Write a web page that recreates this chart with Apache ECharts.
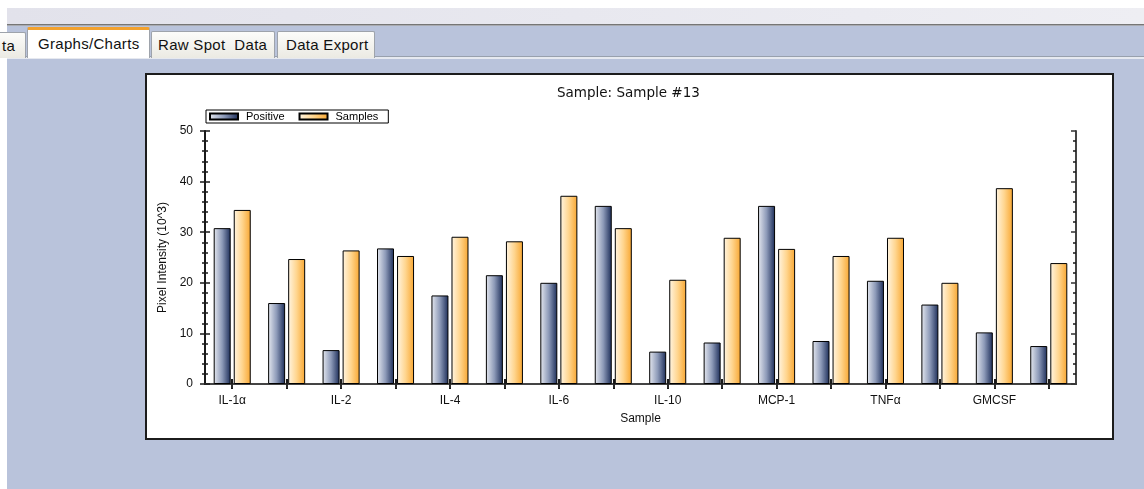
<!DOCTYPE html>
<html>
<head>
<meta charset="utf-8">
<script src="https://cdn.jsdelivr.net/npm/echarts@6/dist/echarts.min.js"></script>
<style>
  html, body { margin: 0; padding: 0; }
  body { width: 1144px; height: 489px; position: relative; overflow: hidden; background: #fff; font-family: 'Liberation Sans', Arial, sans-serif; }
  .band { position: absolute; left: 7px; top: 8px; width: 1137px; height: 16px; background: linear-gradient(to right, #e2e2eb, #eeeef3); }
  .rule1 { position: absolute; left: 7px; top: 24px; width: 1137px; height: 1px; background: #767676; }
  .rule2 { position: absolute; left: 7px; top: 25px; width: 1137px; height: 1px; background: #a9abb0; }
  .tabbar { position: absolute; left: 7px; top: 26px; width: 1137px; height: 30px; background: #b9c3db; }
  .rule3 { position: absolute; left: 7px; top: 56px; width: 1137px; height: 1px; background: #98a0ad; }
  .rule4 { position: absolute; left: 7px; top: 57px; width: 1137px; height: 2px; background: #e6e9f0; }
  .content { position: absolute; left: 7px; top: 59px; right: 0; bottom: 0; background: #b9c3db; }
  .tab { position: absolute; box-sizing: border-box; border: 1px solid #9ea3ab; border-bottom: none; border-radius: 2px 2px 0 0;
         background: linear-gradient(#fcfcfa, #ebeae3); font-size: 15px; letter-spacing: 0.3px; color: #111; white-space: pre; line-height: 25px; }
  .tab.sel { background: #fff; border-top: 3px solid #f2a12e; line-height: 27px; }
  .panel { position: absolute; left: 145px; top: 73px; width: 969px; height: 367px; box-sizing: border-box; background: #fff; border: 2px solid #1c1c1c; }
  #chart { position: absolute; left: 0; top: 0; width: 1144px; height: 489px; z-index: 2; }
</style>
</head>
<body>
<div class="band"></div>
<div class="rule1"></div>
<div class="rule2"></div>
<div class="tabbar"></div>
<div class="rule3"></div>
<div class="rule4"></div>
<div class="content"></div>
<div class="tab" style="left:-14px;top:32px;width:40px;height:26px;padding-left:15px;">ta</div>
<div class="tab sel" style="left:27px;top:27px;width:123px;height:31px;padding-left:10px;">Graphs/Charts</div>
<div class="tab" style="left:151px;top:31px;width:124px;height:27px;padding-left:6px;">Raw Spot  Data</div>
<div class="tab" style="left:277px;top:31px;width:98px;height:27px;padding-left:8px;">Data Export</div>
<div class="panel"></div>
<div id="chart"></div>
<script>
const chartTitle = 'Sample: Sample #13';
const cytokines = ['IL-1α', 'IL-1β', 'IL-2', 'IL-3', 'IL-4', 'IL-5', 'IL-6', 'IL-8',
  'IL-10', 'IL-13', 'MCP-1', 'MIP-1α', 'TNFα', 'TNFβ', 'GMCSF', 'IFNγ'];
const positive = [30.8, 16.0, 6.7, 26.8, 17.5, 21.5, 20.0, 35.2, 6.4, 8.2, 35.2, 8.5, 20.4, 15.7, 10.2, 7.5];
const samples = [34.4, 24.7, 26.4, 25.3, 29.1, 28.2, 37.2, 30.8, 20.6, 28.9, 26.7, 25.3, 28.9, 20.0, 38.7, 23.9];
const yMin = 0, yMax = 50, yStep = 10;

const font = "'Liberation Sans', Arial, sans-serif";
const ink = '#1a1a1a';

const grad = (a, m, b) => new echarts.graphic.LinearGradient(0, 0, 1, 0, [
  { offset: 0, color: a }, { offset: 0.5, color: m }, { offset: 1, color: b }
]);

const valueAxis = (extra) => Object.assign({
  type: 'value', min: yMin, max: yMax, interval: yStep,
  splitLine: { show: false },
  axisLabel: { show: false },
  axisLine: { show: false },
  axisTick: { show: true, length: 5, lineStyle: { color: ink, width: 1.5 } },
  minorTick: { show: true, splitNumber: 5, length: 3, lineStyle: { color: ink, width: 1.5 } }
}, extra);

const catAxis = (extra) => Object.assign({
  type: 'category', data: cytokines,
  axisLabel: { show: false },
  axisLine: { show: false },
  axisTick: { show: true, alignWithLabel: true, interval: 0, length: 5, lineStyle: { color: ink, width: 2 } }
}, extra);

const chart = echarts.init(document.getElementById('chart'));
chart.setOption({
  animation: false,
  backgroundColor: 'transparent',
  title: {
    text: chartTitle, left: 557, top: 86, padding: 0,
    textStyle: { fontFamily: 'DejaVu Sans', fontSize: 13.5, fontWeight: 'normal', color: '#111' }
  },
  legend: {
    data: ['Positive', 'Samples'],
    left: 206, top: 110, icon: 'rect', itemWidth: 28, itemHeight: 6, itemGap: 14,
    padding: [1, 10, 1, 3], borderColor: '#000', borderWidth: 1, backgroundColor: '#fff',
    textStyle: { fontFamily: font, fontSize: 11, color: '#000', lineHeight: 11, padding: [0, 0, 0, 3] }
  },
  grid: { left: 205, top: 131, width: 871, height: 253, containLabel: false },
  xAxis: [
    catAxis({
      position: 'bottom',
      axisLine: { show: true, lineStyle: { color: ink, width: 2 } },
      axisLabel: { show: true, interval: 1, margin: 11, color: '#111', fontFamily: font, fontSize: 12 },
      name: 'Sample', nameLocation: 'middle', nameGap: 29,
      nameTextStyle: { color: '#111', fontFamily: font, fontSize: 12 }
    }),
    catAxis({ position: 'bottom', axisTick: { show: true, inside: true, alignWithLabel: true, interval: 0, length: 5, lineStyle: { color: ink, width: 2 } } }),
    catAxis({
      position: 'top',
      axisLine: { show: true, lineStyle: { color: '#444', width: 2 } },
      axisTick: { show: true, inside: true, alignWithLabel: true, interval: 0, length: 4, lineStyle: { color: '#333', width: 1.5 } }
    })
  ],
  yAxis: [
    valueAxis({
      position: 'left',
      axisLine: { show: true, lineStyle: { color: ink, width: 2 } },
      axisLabel: { show: true, margin: 12, color: '#111', fontFamily: font, fontSize: 12 },
      name: 'Pixel Intensity (10^3)', nameLocation: 'middle', nameGap: 36,
      nameTextStyle: { color: '#111', fontFamily: font, fontSize: 12 }
    }),
    valueAxis({ position: 'left', axisTick: { show: true, inside: true, length: 5, lineStyle: { color: ink, width: 1.5 } } }),
    valueAxis({
      position: 'right',
      axisLine: { show: true, lineStyle: { color: '#444', width: 2 } },
      axisTick: { show: true, inside: true, length: 5, lineStyle: { color: '#333', width: 1.5 } }
    })
  ],
  series: [
    {
      name: 'Positive', type: 'bar', xAxisIndex: 0, yAxisIndex: 0,
      barWidth: 17, barGap: '18%', data: positive,
      itemStyle: { color: grad('#e6e9f0', '#8d9ab8', '#1b2c58'), borderColor: '#000', borderWidth: 1 }
    },
    {
      name: 'Samples', type: 'bar', xAxisIndex: 0, yAxisIndex: 0,
      barWidth: 17, data: samples,
      itemStyle: { color: grad('#fff5e3', '#ffd58e', '#f8a630'), borderColor: '#000', borderWidth: 1 }
    }
  ]
});
</script>
</body>
</html>
